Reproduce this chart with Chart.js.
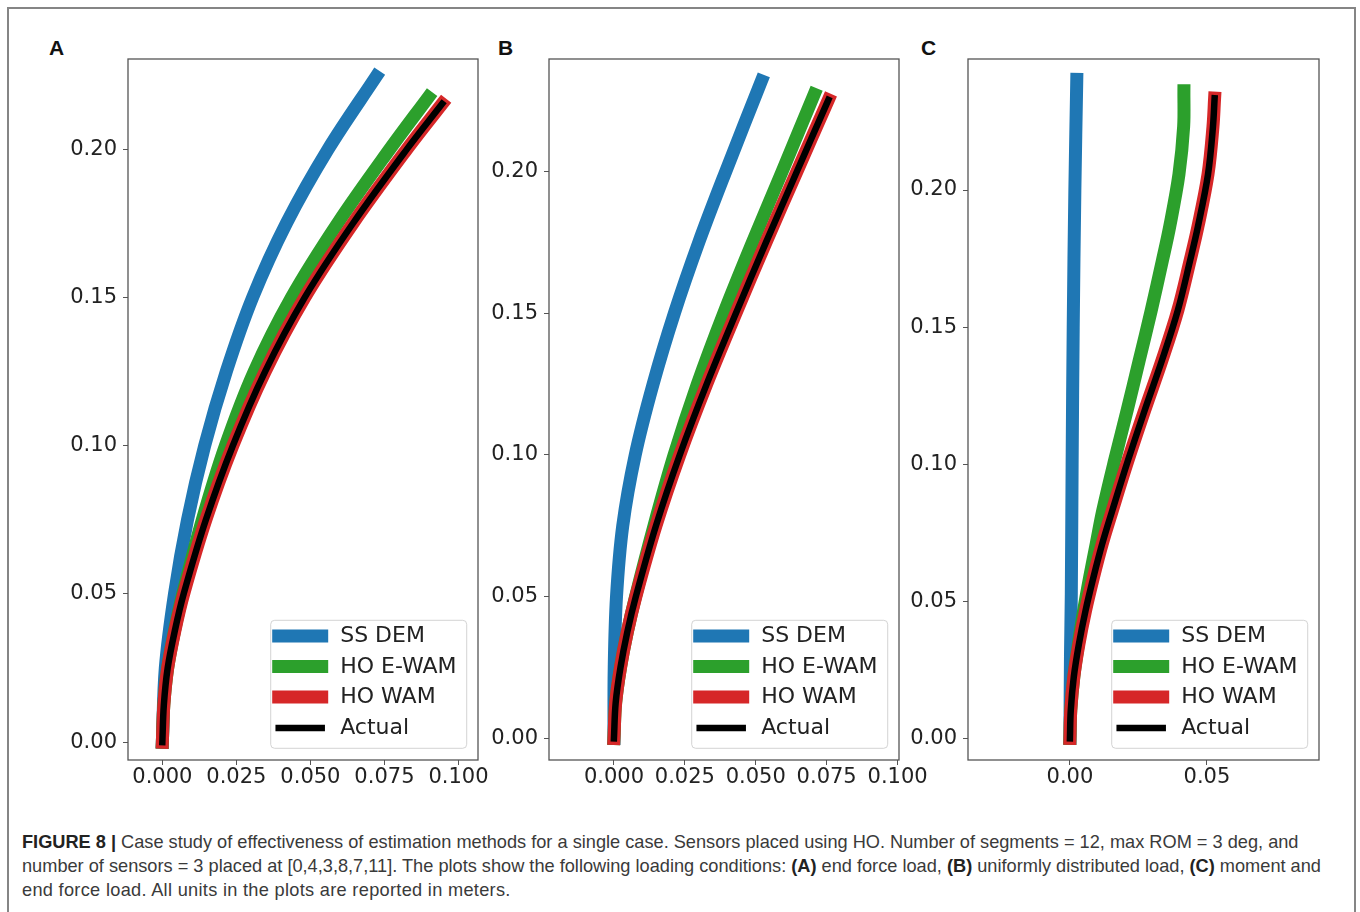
<!DOCTYPE html>
<html>
<head>
<meta charset="utf-8">
<script src="https://cdn.jsdelivr.net/npm/chart.js@4.4.1/dist/chart.umd.min.js"></script>
<style>
  html, body { margin: 0; padding: 0; background: #fff; }
  body { width: 1360px; height: 912px; position: relative; overflow: hidden; }
  #frame { position: absolute; left: 7px; top: 7px; width: 1345px; height: 1000px;
           border: 2px solid #858585; border-bottom: none; }
  canvas { position: absolute; }
  .plab { position: absolute; font-family: "Liberation Sans", Arial, sans-serif; font-weight: bold;
          font-size: 21px; line-height: 21px; color: #111; }
  .cap { position: absolute; left: 22px; font-family: "Liberation Sans", Arial, sans-serif;
         font-size: 18.2px; line-height: 24px; color: #3a3a3a; white-space: nowrap; }
  .cap b { color: #222; }
</style>
</head>
<body>
<div id="frame"></div>
<div class="plab" style="left:49px;top:37px">A</div>
<div class="plab" style="left:498px;top:37px">B</div>
<div class="plab" style="left:921px;top:37px">C</div>
<canvas id="cA" width="470" height="776" style="left:38px;top:34px"></canvas>
<canvas id="cB" width="470" height="776" style="left:459px;top:34px"></canvas>
<canvas id="cC" width="471" height="776" style="left:878px;top:34px"></canvas>
<div class="cap" style="top:830px"><b>FIGURE 8 |</b> Case study of effectiveness of estimation methods for a single case. Sensors placed using HO. Number of segments = 12, max ROM = 3 deg, and</div>
<div class="cap" style="top:854px">number of sensors = 3 placed at [0,4,3,8,7,11]. The plots show the following loading conditions: <b>(A)</b> end force load, <b>(B)</b> uniformly distributed load, <b>(C)</b> moment and</div>
<div class="cap" style="top:878px;letter-spacing:0.3px">end force load. All units in the plots are reported in meters.</div>
<script>
// ---------------- data (x, y) in meters ----------------
const SERIES = ['SS DEM', 'HO E-WAM', 'HO WAM', 'Actual'];

const A_SSDEM  = [[0,0],[0.001,0.025],[0.0041,0.05],[0.0085,0.075],[0.0143,0.1],[0.0216,0.125],[0.0305,0.15],[0.0419,0.175],[0.056,0.2],[0.0722,0.2245]];
const A_HOEWAM = [[0,0],[0.0005,0.0125],[0.0018,0.025],[0.0041,0.0375],[0.0069,0.05],[0.0135,0.075],[0.0213,0.1],[0.031,0.125],[0.0436,0.15],[0.0592,0.175],[0.0768,0.2],[0.0898,0.2175]];
const A_HOWAM  = [[0,0],[0.0005,0.0125],[0.0018,0.025],[0.0042,0.0375],[0.0072,0.05],[0.0147,0.075],[0.0238,0.1],[0.0347,0.125],[0.0481,0.15],[0.0644,0.175],[0.0826,0.2],[0.0945,0.2153]];
const A_ACTUAL = [[0,0],[0.0005,0.0125],[0.0018,0.025],[0.0042,0.0375],[0.0072,0.05],[0.0147,0.075],[0.0238,0.1],[0.0347,0.125],[0.0481,0.15],[0.0644,0.175],[0.0826,0.2],[0.0945,0.2153]];

const B_SSDEM  = [[0,0],[0.0001,0.025],[0.0009,0.05],[0.0031,0.075],[0.0075,0.1],[0.0138,0.125],[0.0213,0.15],[0.0299,0.175],[0.0394,0.2],[0.052,0.232]];
const B_HOEWAM = [[0,0],[0.0006,0.0125],[0.0023,0.025],[0.0047,0.0375],[0.0076,0.05],[0.0141,0.075],[0.0212,0.1],[0.0294,0.125],[0.0387,0.15],[0.0488,0.175],[0.0593,0.2],[0.0706,0.2273]];
const B_HOWAM  = [[0,0],[0.0006,0.0125],[0.0023,0.025],[0.0047,0.0375],[0.0077,0.05],[0.0148,0.075],[0.0232,0.1],[0.0327,0.125],[0.043,0.15],[0.0536,0.175],[0.0645,0.2],[0.0756,0.2253]];
const B_ACTUAL = [[0,0],[0.0006,0.0125],[0.0023,0.025],[0.0047,0.0375],[0.0077,0.05],[0.0148,0.075],[0.0232,0.1],[0.0327,0.125],[0.043,0.15],[0.0536,0.175],[0.0645,0.2],[0.0756,0.2253]];

const C_SSDEM  = [[0,0],[0.0002,0.03],[0.0005,0.0525],[0.0008,0.1],[0.0012,0.15],[0.0018,0.2],[0.0025,0.2404]];
const C_HOEWAM = [[0,0],[0.0003,0.0101],[0.0014,0.0223],[0.0031,0.0345],[0.005,0.0466],[0.0072,0.0588],[0.0096,0.071],[0.012,0.0832],[0.0163,0.1014],[0.0209,0.1197],[0.0253,0.1379],[0.0297,0.1562],[0.0338,0.1745],[0.0364,0.1866],[0.0398,0.2058],[0.0415,0.2231],[0.0416,0.2362]];
const C_HOWAM  = [[0,0],[0.0003,0.0101],[0.0014,0.0223],[0.0033,0.0345],[0.0057,0.0466],[0.0086,0.0588],[0.0118,0.071],[0.0155,0.0832],[0.0212,0.1014],[0.0273,0.1197],[0.0336,0.1379],[0.0394,0.1562],[0.0439,0.1745],[0.0467,0.1866],[0.0504,0.2058],[0.0522,0.2231],[0.0528,0.2335]];
const C_ACTUAL = [[0,0],[0.0003,0.0101],[0.0014,0.0223],[0.0033,0.0345],[0.0057,0.0466],[0.0086,0.0588],[0.0118,0.071],[0.0155,0.0832],[0.0212,0.1014],[0.0273,0.1197],[0.0336,0.1379],[0.0394,0.1562],[0.0439,0.1745],[0.0467,0.1866],[0.0504,0.2058],[0.0522,0.2231],[0.0528,0.2335]];

// tick values
const X_TICKS_AB = [0, 0.025, 0.05, 0.075, 0.1];
const X_TICKS_C  = [0, 0.05];
const Y_TICKS    = [0, 0.05, 0.10, 0.15, 0.20];

// axis limits
const A_XLIM = [-0.0116, 0.1066], A_YLIM = [-0.006, 0.2304];
const B_XLIM = [-0.0229, 0.1005], B_YLIM = [-0.0076, 0.2397];
const C_XLIM = [-0.0372, 0.0909], C_YLIM = [-0.0079, 0.2478];

// ---------------- styling ----------------
const COLORS = ['#1f77b4', '#2ca02c', '#d62728', '#000000'];
const WIDTHS = [13, 13, 13, 6.5];
const ORDERS = [3, 2, 1, 0];
const TICK_FONT = { family: 'DejaVu Sans', size: 21 };
const TEXT_COLOR = '#222';
const AXIS_COLOR = '#555';

const framePlugin = {
  id: 'frameBox',
  afterDraw(chart) {
    const a = chart.chartArea, ctx = chart.ctx;
    ctx.save();
    ctx.strokeStyle = AXIS_COLOR;
    ctx.lineWidth = 1.3;
    ctx.strokeRect(a.left, a.top, a.right - a.left, a.bottom - a.top);
    ctx.restore();
  }
};

const innerLegend = {
  id: 'innerLegend',
  afterDraw(chart, args, o) {
    const ctx = chart.ctx, a = chart.chartArea;
    const x0 = a.right - o.right - o.width, y0 = a.bottom - o.bottom - o.height;
    const w = o.width, h = o.height, r = o.radius;
    ctx.save();
    ctx.beginPath();
    ctx.moveTo(x0 + r, y0);
    ctx.arcTo(x0 + w, y0, x0 + w, y0 + h, r);
    ctx.arcTo(x0 + w, y0 + h, x0, y0 + h, r);
    ctx.arcTo(x0, y0 + h, x0, y0, r);
    ctx.arcTo(x0, y0, x0 + w, y0, r);
    ctx.closePath();
    ctx.fillStyle = 'rgba(255,255,255,0.8)';
    ctx.fill();
    ctx.strokeStyle = 'rgba(200,200,200,0.8)';
    ctx.lineWidth = 1;
    ctx.stroke();
    chart.data.datasets.forEach((ds, i) => {
      const cy = y0 + o.rowY[i];
      ctx.beginPath();
      ctx.moveTo(x0 + o.handleX0, cy);
      ctx.lineTo(x0 + o.handleX1, cy);
      ctx.lineCap = 'square';
      ctx.lineWidth = ds.borderWidth;
      ctx.strokeStyle = ds.borderColor;
      ctx.stroke();
      ctx.font = '22px "DejaVu Sans"';
      ctx.fillStyle = TEXT_COLOR;
      ctx.textAlign = 'left';
      ctx.textBaseline = 'middle';
      ctx.fillText(ds.label, x0 + o.textX, cy + 0.5);
    });
    ctx.restore();
  }
};

function makePanel(canvasId, series, xlim, ylim, xTicks, xDigits) {
  const datasets = series.map((pts, i) => ({
    label: SERIES[i],
    data: pts.map(p => ({ x: p[0], y: p[1] })),
    showLine: true,
    borderColor: COLORS[i],
    backgroundColor: COLORS[i],
    borderWidth: WIDTHS[i],
    borderCapStyle: 'square',
    borderJoinStyle: 'round',
    tension: 0.35,
    pointRadius: 0,
    pointHoverRadius: 0,
    order: ORDERS[i],
    clip: false
  }));
  const gridOpts = { display: true, drawOnChartArea: false, drawTicks: true, tickLength: 5, color: AXIS_COLOR, lineWidth: 1 };
  return new Chart(document.getElementById(canvasId), {
    type: 'scatter',
    data: { datasets },
    options: {
      responsive: false,
      animation: false,
      events: [],
      layout: { padding: { left: 0, top: 25, right: 30, bottom: 0 } },
      scales: {
        x: {
          type: 'linear', position: 'bottom', min: xlim[0], max: xlim[1],
          afterBuildTicks: s => { s.ticks = xTicks.map(v => ({ value: v })); },
          afterFit: s => { s.height = 50; },
          ticks: { callback: v => Number(v).toFixed(xDigits), font: TICK_FONT, color: TEXT_COLOR,
                   padding: 0, autoSkip: false, maxRotation: 0, minRotation: 0 },
          grid: gridOpts,
          border: { display: false }
        },
        y: {
          type: 'linear', position: 'left', min: ylim[0], max: ylim[1],
          afterBuildTicks: s => { s.ticks = Y_TICKS.map(v => ({ value: v })); },
          afterFit: s => { s.width = 90; },
          ticks: { callback: v => Number(v).toFixed(2), font: TICK_FONT, color: TEXT_COLOR,
                   padding: 6, autoSkip: false },
          grid: gridOpts,
          border: { display: false }
        }
      },
      plugins: {
        legend: { display: false },
        tooltip: { enabled: false },
        innerLegend: { right: 11.3, bottom: 11.7, width: 196, height: 128, radius: 4,
                       rowY: [15.8, 46.3, 76.8, 107.8], handleX0: 8, handleX1: 51, textX: 69.5 }
      }
    },
    plugins: [framePlugin, innerLegend]
  });
}

makePanel('cA', [A_SSDEM, A_HOEWAM, A_HOWAM, A_ACTUAL], A_XLIM, A_YLIM, X_TICKS_AB, 3);
makePanel('cB', [B_SSDEM, B_HOEWAM, B_HOWAM, B_ACTUAL], B_XLIM, B_YLIM, X_TICKS_AB, 3);
makePanel('cC', [C_SSDEM, C_HOEWAM, C_HOWAM, C_ACTUAL], C_XLIM, C_YLIM, X_TICKS_C, 2);
</script>
</body>
</html>
